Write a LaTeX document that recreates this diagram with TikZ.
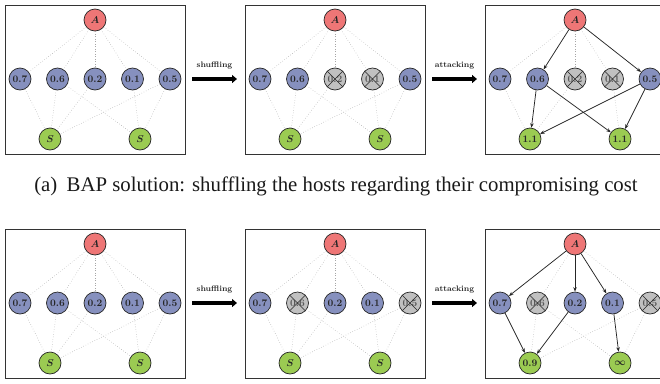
\documentclass[tikz,border=0pt]{standalone}
\usepackage{fontspec}
\usepackage{bm}
\newfontfamily\capfont{Liberation Serif}
\usetikzlibrary{arrows.meta}

\definecolor{attacker}{RGB}{238,118,118}
\definecolor{host}{RGB}{134,144,190}
\definecolor{server}{RGB}{155,203,82}
\definecolor{moved}{RGB}{192,192,192}

\tikzset{
  x=1pt, y=-1pt,
  vtx/.style={circle, draw=black!85, line width=0.7pt, minimum size=22pt,
    inner sep=0pt, font=\fontsize{10}{10}\selectfont\bfseries, text=black!85},
  atk/.style={vtx, fill=attacker},
  hst/.style={vtx, fill=host},
  srv/.style={vtx, fill=server},
  gone/.style={vtx, fill=moved, text=black!65},
  link/.style={draw=black!35, dotted, line width=0.5pt},
  hit/.style={draw=black!85, line width=0.75pt, -{Stealth[length=4.5pt,width=3.5pt]}},
  frame/.style={draw=black!80, line width=0.9pt},
  phase/.style={line width=3.2pt, -{Triangle[length=5pt,width=8pt]}},
  phaselabel/.style={font=\fontsize{8}{9}\selectfont\bfseries, text=black!85}
}

% one network snapshot: prefix, shift, five host styles, two server labels
\newcommand\panel[9]{%
  \begin{scope}[shift={#2}]
    \draw[frame] (0,0) rectangle (180,149);
    \node[atk] (#1A) at (90,15) {$\bm{A}$};
    \node[#3] (#1h1) at (15,74)    {0.7};
    \node[#4] (#1h2) at (52.5,74)  {0.6};
    \node[#5] (#1h3) at (90,74)    {0.2};
    \node[#6] (#1h4) at (127.5,74) {0.1};
    \node[#7] (#1h5) at (165,74)   {0.5};
    \node[srv] (#1s1) at (45,134)  {#8};
    \node[srv] (#1s2) at (135,134) {#9};
  \end{scope}}

\newcommand\crossed[1]{\draw[black!85, line width=0.6pt] (#1.45) -- (#1.225) (#1.135) -- (#1.315);}
\newcommand\links[2]{\foreach \u/\v in {#2} {\draw[link] (#1\u) -- (#1\v);}}
\newcommand\hits[2]{\foreach \u/\v in {#2} {\draw[hit] (#1\u) -- (#1\v);}}

\begin{document}
\begin{tikzpicture}
\clip (0,0) rectangle (660,383);
\useasboundingbox (0,0) rectangle (660,383);

% ---- (a) shuffling by compromising cost ----
\panel{a}{(5,5)}{hst}{hst}{hst}{hst}{hst}{$\bm{S}$}{$\bm{S}$}
\links{a}{A/h1,A/h2,A/h3,A/h4,A/h5,h1/s1,h2/s1,h3/s1,h5/s1,h2/s2,h4/s2,h5/s2}

\panel{b}{(245,5)}{hst}{hst}{gone}{gone}{hst}{$\bm{S}$}{$\bm{S}$}
\links{b}{A/h1,A/h2,A/h3,A/h4,A/h5,h1/s1,h2/s1,h3/s1,h5/s1,h2/s2,h4/s2,h5/s2}
\crossed{bh3}\crossed{bh4}

\panel{c}{(485,5)}{hst}{hst}{gone}{gone}{hst}{1.1}{1.1}
\links{c}{A/h1,A/h3,A/h4,h1/s1,h3/s1,h4/s2}
\hits{c}{A/h2,A/h5,h2/s1,h2/s2,h5/s1,h5/s2}
\crossed{ch3}\crossed{ch4}

\coordinate (a1) at (192,79);  \coordinate (a2) at (237,79);
\coordinate (a3) at (432,79);  \coordinate (a4) at (477,79);
\draw[phase] (a1) -- node[phaselabel, above=5pt] {shuffling} (a2);
\draw[phase] (a3) -- node[phaselabel, above=5pt] {attacking} (a4);

\node[font=\capfont\fontsize{20.8}{24}\selectfont, text=black!90] (capA) at (336,186)
  {(a)\hspace{0.45em}BAP solution: shuffling the hosts regarding their compromising cost};

% ---- (b) second strategy ----
\panel{d}{(5,229)}{hst}{hst}{hst}{hst}{hst}{$\bm{S}$}{$\bm{S}$}
\links{d}{A/h1,A/h2,A/h3,A/h4,A/h5,h1/s1,h2/s1,h3/s1,h5/s1,h2/s2,h4/s2,h5/s2}

\panel{e}{(245,229)}{hst}{gone}{hst}{hst}{gone}{$\bm{S}$}{$\bm{S}$}
\links{e}{A/h1,A/h2,A/h3,A/h4,A/h5,h1/s1,h2/s1,h3/s1,h5/s1,h2/s2,h4/s2,h5/s2}
\crossed{eh2}\crossed{eh5}

\panel{f}{(485,229)}{hst}{gone}{hst}{hst}{gone}{0.9}{$\bm{\infty}$}
\links{f}{A/h2,A/h5,h2/s1,h5/s1,h2/s2,h5/s2}
\hits{f}{A/h1,A/h3,A/h4,h1/s1,h3/s1,h4/s2}
\crossed{fh2}\crossed{fh5}

\coordinate (b1) at (192,303);  \coordinate (b2) at (237,303);
\coordinate (b3) at (432,303);  \coordinate (b4) at (477,303);
\draw[phase] (b1) -- node[phaselabel, above=5pt] {shuffling} (b2);
\draw[phase] (b3) -- node[phaselabel, above=5pt] {attacking} (b4);
\end{tikzpicture}
\end{document}
